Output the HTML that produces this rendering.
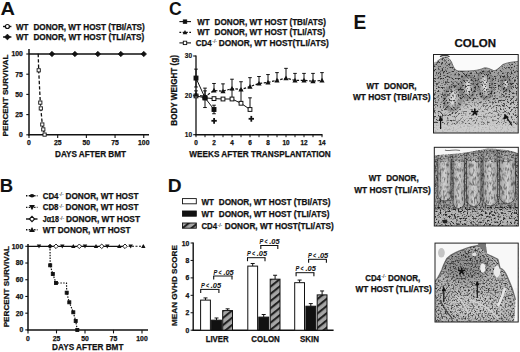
<!DOCTYPE html>
<html><head><meta charset="utf-8"><style>
html,body{margin:0;padding:0;background:#fff;}
svg{display:block;}
text{font-family:"Liberation Sans", sans-serif;fill:#111;stroke:#111;stroke-width:0.25px;}
</style></head><body>
<svg width="520" height="352" viewBox="0 0 520 352">
<defs>
<pattern id="hatch" patternUnits="userSpaceOnUse" width="5.6" height="5.6" patternTransform="rotate(51)">
<rect width="5.6" height="5.6" fill="#a6a6a6"/><rect width="2.1" height="5.6" fill="#222"/></pattern>
<linearGradient id="cryptg" x1="0" y1="0" x2="1" y2="0"><stop offset="0" stop-color="#a0a0a0"/><stop offset="0.5" stop-color="#d0d0d0"/><stop offset="1" stop-color="#a0a0a0"/></linearGradient>
<clipPath id="c1"><rect x="433.5" y="54.5" width="84.7" height="78.5"/></clipPath>
<clipPath id="c2"><rect x="434.3" y="147.3" width="84" height="78.7"/></clipPath>
<clipPath id="c3"><rect x="435.0" y="243.1" width="83.2" height="78.9"/></clipPath>
<filter id="blur1" x="-20%" y="-20%" width="140%" height="140%"><feGaussianBlur stdDeviation="0.7"/></filter>
<filter id="blur15" x="-20%" y="-20%" width="140%" height="140%"><feGaussianBlur stdDeviation="1.3"/></filter>
<filter id="blur2" x="-20%" y="-20%" width="140%" height="140%"><feGaussianBlur stdDeviation="3"/></filter>
<filter id="sp1" x="0" y="0" width="100%" height="100%">
<feTurbulence type="fractalNoise" baseFrequency="0.6" numOctaves="2" seed="7" result="n"/>
<feColorMatrix in="n" type="matrix" values="0 0 0 0 0  0 0 0 0 0  0 0 0 0 0  3.2 0 0 0 -1.45"/>
<feGaussianBlur stdDeviation="0.35"/>
</filter>
<filter id="sp3" x="0" y="0" width="100%" height="100%">
<feTurbulence type="fractalNoise" baseFrequency="0.55" numOctaves="2" seed="5" result="n"/>
<feColorMatrix in="n" type="matrix" values="0 0 0 0 0  0 0 0 0 0  0 0 0 0 0  5 0 0 0 -2.55"/>
<feGaussianBlur stdDeviation="0.5"/>
</filter>
<filter id="sp2" x="0" y="0" width="100%" height="100%">
<feTurbulence type="fractalNoise" baseFrequency="0.55 0.22" numOctaves="2" seed="11" result="n"/>
<feColorMatrix in="n" type="matrix" values="0 0 0 0 0  0 0 0 0 0  0 0 0 0 0  3.2 0 0 0 -1.45"/>
<feGaussianBlur stdDeviation="0.35"/>
</filter>
</defs>
<rect width="520" height="352" fill="#fff"/>
<text x="0.5" y="14.9" font-size="18.7" font-weight="bold" text-anchor="start" textLength="14.45" lengthAdjust="spacingAndGlyphs" style="stroke-width:0px">A</text>
<line x1="3" y1="26.5" x2="11.4" y2="26.5" stroke="#111" stroke-width="1.4"/>
<circle cx="7.4" cy="26.5" r="2.0" fill="#fff" stroke="#111" stroke-width="1.2"/>
<text x="15.9" y="29.6" font-size="8.2" font-weight="bold" text-anchor="start" textLength="12.4" lengthAdjust="spacingAndGlyphs">WT</text>
<text x="33.4" y="29.6" font-size="8.2" font-weight="bold" text-anchor="start" textLength="111.4" lengthAdjust="spacingAndGlyphs">DONOR, WT HOST (TBI/ATS)</text>
<line x1="3" y1="37" x2="11.4" y2="37" stroke="#111" stroke-width="1.4"/>
<path d="M4.5 37L7.4 34.1L10.3 37L7.4 39.9Z" fill="#111" stroke="#111" stroke-width="0.6"/>
<text x="15.9" y="39.9" font-size="8.2" font-weight="bold" text-anchor="start" textLength="12.4" lengthAdjust="spacingAndGlyphs">WT</text>
<text x="33.4" y="39.9" font-size="8.2" font-weight="bold" text-anchor="start" textLength="110.8" lengthAdjust="spacingAndGlyphs">DONOR, WT HOST (TLI/ATS)</text>
<line x1="29" y1="49" x2="29" y2="135.4" stroke="#111" stroke-width="1.5"/>
<line x1="28.3" y1="134.8" x2="149" y2="134.8" stroke="#111" stroke-width="1.5"/>
<line x1="26.3" y1="134.8" x2="29" y2="134.8" stroke="#111" stroke-width="1.1"/>
<text x="22.8" y="137.20000000000002" font-size="6.8" font-weight="bold" text-anchor="end">0</text>
<line x1="29.0" y1="134.8" x2="29.0" y2="138" stroke="#111" stroke-width="1.1"/>
<text x="29.0" y="145.4" font-size="6.8" font-weight="bold" text-anchor="middle">0</text>
<line x1="26.3" y1="114.60000000000001" x2="29" y2="114.60000000000001" stroke="#111" stroke-width="1.1"/>
<text x="22.8" y="117.00000000000001" font-size="6.8" font-weight="bold" text-anchor="end">25</text>
<line x1="57.6875" y1="134.8" x2="57.6875" y2="138" stroke="#111" stroke-width="1.1"/>
<text x="57.6875" y="145.4" font-size="6.8" font-weight="bold" text-anchor="middle">25</text>
<line x1="26.3" y1="94.4" x2="29" y2="94.4" stroke="#111" stroke-width="1.1"/>
<text x="22.8" y="96.80000000000001" font-size="6.8" font-weight="bold" text-anchor="end">50</text>
<line x1="86.375" y1="134.8" x2="86.375" y2="138" stroke="#111" stroke-width="1.1"/>
<text x="86.375" y="145.4" font-size="6.8" font-weight="bold" text-anchor="middle">50</text>
<line x1="26.3" y1="74.20000000000002" x2="29" y2="74.20000000000002" stroke="#111" stroke-width="1.1"/>
<text x="22.8" y="76.60000000000002" font-size="6.8" font-weight="bold" text-anchor="end">75</text>
<line x1="115.0625" y1="134.8" x2="115.0625" y2="138" stroke="#111" stroke-width="1.1"/>
<text x="115.0625" y="145.4" font-size="6.8" font-weight="bold" text-anchor="middle">75</text>
<line x1="26.3" y1="54.0" x2="29" y2="54.0" stroke="#111" stroke-width="1.1"/>
<text x="22.8" y="56.4" font-size="6.8" font-weight="bold" text-anchor="end">100</text>
<line x1="143.75" y1="134.8" x2="143.75" y2="138" stroke="#111" stroke-width="1.1"/>
<text x="143.75" y="145.4" font-size="6.8" font-weight="bold" text-anchor="middle">100</text>
<text x="55" y="156.6" font-size="8.8" font-weight="bold" text-anchor="start" textLength="71" lengthAdjust="spacingAndGlyphs">DAYS AFTER BMT</text>
<text x="0" y="0" font-size="8.1" font-weight="bold" text-anchor="start" textLength="81.9" lengthAdjust="spacingAndGlyphs" transform="translate(7.9 136.4) rotate(-90)">PERCENT SURVIVAL</text>
<line x1="29" y1="54.0" x2="143.75" y2="54.0" stroke="#111" stroke-width="1.3"/>
<path d="M49.150000000000006 54.0L51.95 51.2L54.75 54.0L51.95 56.8Z" fill="#111" stroke="#111" stroke-width="0.6"/>
<path d="M72.10000000000001 54.0L74.9 51.2L77.7 54.0L74.9 56.8Z" fill="#111" stroke="#111" stroke-width="0.6"/>
<path d="M95.05 54.0L97.85 51.2L100.64999999999999 54.0L97.85 56.8Z" fill="#111" stroke="#111" stroke-width="0.6"/>
<path d="M118.0 54.0L120.8 51.2L123.6 54.0L120.8 56.8Z" fill="#111" stroke="#111" stroke-width="0.6"/>
<path d="M140.95 54.0L143.75 51.2L146.55 54.0L143.75 56.8Z" fill="#111" stroke="#111" stroke-width="0.6"/>
<polyline points="38.2,53.8 38.7,70.3 40.3,102.6 40.8,108.4 42.3,124.5 43.3,129.4 44.6,134.6" fill="none" stroke="#111" stroke-width="1.3" stroke-dasharray="3.4 2"/>
<rect x="37.1" y="68.7" width="3.2" height="3.2" fill="#fff" stroke="#111" stroke-width="0.9"/>
<rect x="38.699999999999996" y="101.0" width="3.2" height="3.2" fill="#fff" stroke="#111" stroke-width="0.9"/>
<rect x="39.199999999999996" y="106.80000000000001" width="3.2" height="3.2" fill="#fff" stroke="#111" stroke-width="0.9"/>
<rect x="40.699999999999996" y="122.9" width="3.2" height="3.2" fill="#fff" stroke="#111" stroke-width="0.9"/>
<rect x="41.699999999999996" y="127.80000000000001" width="3.2" height="3.2" fill="#fff" stroke="#111" stroke-width="0.9"/>
<rect x="43.0" y="133.0" width="3.2" height="3.2" fill="#fff" stroke="#111" stroke-width="0.9"/>
<text x="-0.2" y="191.9" font-size="18.9" font-weight="bold" text-anchor="start" textLength="13.36" lengthAdjust="spacingAndGlyphs" style="stroke-width:0.1px">B</text>
<line x1="26" y1="195.8" x2="37.5" y2="195.8" stroke="#111" stroke-width="1.4" stroke-dasharray="1.4 1.3"/>
<ellipse cx="32" cy="195.8" rx="2.3" ry="1.8" fill="#111"/>
<text x="42.7" y="198.70000000000002" font-size="8.2" font-weight="bold" text-anchor="start" textLength="15.8" lengthAdjust="spacingAndGlyphs">CD4</text>
<text x="58.9" y="196.3" font-size="5.0" font-weight="normal" style="stroke:#444;stroke-width:0.15px;fill:#444">-/-</text>
<text x="65.5" y="198.70000000000002" font-size="8.2" font-weight="bold" text-anchor="start" textLength="73.0" lengthAdjust="spacingAndGlyphs">DONOR, WT HOST</text>
<line x1="26" y1="207.4" x2="37.5" y2="207.4" stroke="#111" stroke-width="1.4" stroke-dasharray="1.4 1.3"/>
<path d="M29.1 205.08L34.9 205.08L32 210.3Z" fill="#111"/>
<text x="42.7" y="210.3" font-size="8.2" font-weight="bold" text-anchor="start" textLength="15.8" lengthAdjust="spacingAndGlyphs">CD8</text>
<text x="58.9" y="207.9" font-size="5.0" font-weight="normal" style="stroke:#444;stroke-width:0.15px;fill:#444">-/-</text>
<text x="65.5" y="210.3" font-size="8.2" font-weight="bold" text-anchor="start" textLength="73.0" lengthAdjust="spacingAndGlyphs">DONOR, WT HOST</text>
<line x1="26" y1="219.0" x2="37.5" y2="219.0" stroke="#111" stroke-width="1.4"/>
<path d="M29.4 219.0L32 216.4L34.6 219.0L32 221.6Z" fill="#fff" stroke="#111" stroke-width="1.1"/>
<text x="42.7" y="221.9" font-size="8.2" font-weight="bold" text-anchor="start" textLength="16.3" lengthAdjust="spacingAndGlyphs">J&#945;18</text>
<text x="59.4" y="219.5" font-size="5.0" font-weight="normal" style="stroke:#444;stroke-width:0.15px;fill:#444">-/-</text>
<text x="66.0" y="221.9" font-size="8.2" font-weight="bold" text-anchor="start" textLength="74.0" lengthAdjust="spacingAndGlyphs">DONOR, WT HOST</text>
<line x1="26" y1="229.8" x2="37.5" y2="229.8" stroke="#111" stroke-width="1.4" stroke-dasharray="1.4 1.3"/>
<path d="M29.1 232.12L34.9 232.12L32 226.9Z" fill="#111"/>
<text x="42.7" y="232.70000000000002" font-size="8.2" font-weight="bold" text-anchor="start" textLength="87.7" lengthAdjust="spacingAndGlyphs">WT DONOR, WT HOST</text>
<line x1="28" y1="244" x2="28" y2="330.5" stroke="#111" stroke-width="1.5"/>
<line x1="27.3" y1="329.9" x2="148" y2="329.9" stroke="#111" stroke-width="1.5"/>
<line x1="25.3" y1="329.9" x2="28" y2="329.9" stroke="#111" stroke-width="1.1"/>
<text x="23.2" y="332.29999999999995" font-size="6.8" font-weight="bold" text-anchor="end">0</text>
<line x1="25.3" y1="313.17999999999995" x2="28" y2="313.17999999999995" stroke="#111" stroke-width="1.1"/>
<text x="23.2" y="315.5799999999999" font-size="6.8" font-weight="bold" text-anchor="end">20</text>
<line x1="25.3" y1="296.46" x2="28" y2="296.46" stroke="#111" stroke-width="1.1"/>
<text x="23.2" y="298.85999999999996" font-size="6.8" font-weight="bold" text-anchor="end">40</text>
<line x1="25.3" y1="279.74" x2="28" y2="279.74" stroke="#111" stroke-width="1.1"/>
<text x="23.2" y="282.14" font-size="6.8" font-weight="bold" text-anchor="end">60</text>
<line x1="25.3" y1="263.02" x2="28" y2="263.02" stroke="#111" stroke-width="1.1"/>
<text x="23.2" y="265.41999999999996" font-size="6.8" font-weight="bold" text-anchor="end">80</text>
<line x1="25.3" y1="246.29999999999998" x2="28" y2="246.29999999999998" stroke="#111" stroke-width="1.1"/>
<text x="23.2" y="248.7" font-size="6.8" font-weight="bold" text-anchor="end">100</text>
<line x1="28.0" y1="329.9" x2="28.0" y2="333.4" stroke="#111" stroke-width="1.1"/>
<text x="28.0" y="340.8" font-size="6.8" font-weight="bold" text-anchor="middle">0</text>
<line x1="56.5" y1="329.9" x2="56.5" y2="333.4" stroke="#111" stroke-width="1.1"/>
<text x="56.5" y="340.8" font-size="6.8" font-weight="bold" text-anchor="middle">25</text>
<line x1="85.0" y1="329.9" x2="85.0" y2="333.4" stroke="#111" stroke-width="1.1"/>
<text x="85.0" y="340.8" font-size="6.8" font-weight="bold" text-anchor="middle">50</text>
<line x1="113.49999999999999" y1="329.9" x2="113.49999999999999" y2="333.4" stroke="#111" stroke-width="1.1"/>
<text x="113.49999999999999" y="340.8" font-size="6.8" font-weight="bold" text-anchor="middle">75</text>
<line x1="142.0" y1="329.9" x2="142.0" y2="333.4" stroke="#111" stroke-width="1.1"/>
<text x="142.0" y="340.8" font-size="6.8" font-weight="bold" text-anchor="middle">100</text>
<text x="52.1" y="350.2" font-size="8.8" font-weight="bold" text-anchor="start" textLength="71.3" lengthAdjust="spacingAndGlyphs">DAYS AFTER BMT</text>
<text x="0" y="0" font-size="8.1" font-weight="bold" text-anchor="start" textLength="81.3" lengthAdjust="spacingAndGlyphs" transform="translate(8.6 327.3) rotate(-90)">PERCENT SURVIVAL</text>
<line x1="28" y1="246.29999999999998" x2="125" y2="246.29999999999998" stroke="#111" stroke-width="1.2"/>
<line x1="125" y1="246.29999999999998" x2="145" y2="246.29999999999998" stroke="#111" stroke-width="1.1" stroke-dasharray="2 1.5"/>
<path d="M36.8 244.54L41.2 244.54L39 248.49999999999997Z" fill="#111"/>
<path d="M60.099999999999994 244.54L64.5 244.54L62.3 248.49999999999997Z" fill="#111"/>
<path d="M82.8 244.54L87.2 244.54L85 248.49999999999997Z" fill="#111"/>
<path d="M105.1 244.54L109.5 244.54L107.3 248.49999999999997Z" fill="#111"/>
<path d="M128.5 244.54L132.89999999999998 244.54L130.7 248.49999999999997Z" fill="#111"/>
<path d="M53.7 246.29999999999998L56 243.99999999999997L58.3 246.29999999999998L56 248.6Z" fill="#fff" stroke="#111" stroke-width="0.9"/>
<path d="M77.0 246.29999999999998L79.3 243.99999999999997L81.6 246.29999999999998L79.3 248.6Z" fill="#fff" stroke="#111" stroke-width="0.9"/>
<path d="M99.4 246.29999999999998L101.7 243.99999999999997L104.0 246.29999999999998L101.7 248.6Z" fill="#fff" stroke="#111" stroke-width="0.9"/>
<path d="M122.7 246.29999999999998L125 243.99999999999997L127.3 246.29999999999998L125 248.6Z" fill="#fff" stroke="#111" stroke-width="0.9"/>
<path d="M71.1 248.05999999999997L75.5 248.05999999999997L73.3 244.1Z" fill="#111"/>
<path d="M93.8 248.05999999999997L98.2 248.05999999999997L96 244.1Z" fill="#111"/>
<path d="M117.1 248.05999999999997L121.5 248.05999999999997L119.3 244.1Z" fill="#111"/>
<path d="M141.10000000000002 248.05999999999997L145.5 248.05999999999997L143.3 244.1Z" fill="#111"/>
<path d="M47.8 246.29999999999998L50 244.1L52.2 246.29999999999998L50 248.49999999999997Z" fill="#111" stroke="#111" stroke-width="0.6"/>
<polyline points="50,246.29999999999998 50.2,265.3 52.8,274 56,283 66.5,283 66.7,292.7 69.3,302.3 73.3,312.3 75.7,321 77.3,330" fill="none" stroke="#111" stroke-width="1.2" stroke-dasharray="1.5 1.3"/>
<rect x="48.7" y="263.8" width="3.0" height="3.0" fill="#111" stroke="#111" stroke-width="0.9"/>
<rect x="51.3" y="272.5" width="3.0" height="3.0" fill="#111" stroke="#111" stroke-width="0.9"/>
<rect x="54.5" y="281.5" width="3.0" height="3.0" fill="#111" stroke="#111" stroke-width="0.9"/>
<rect x="65.2" y="291.2" width="3.0" height="3.0" fill="#111" stroke="#111" stroke-width="0.9"/>
<rect x="67.8" y="300.8" width="3.0" height="3.0" fill="#111" stroke="#111" stroke-width="0.9"/>
<rect x="71.8" y="310.8" width="3.0" height="3.0" fill="#111" stroke="#111" stroke-width="0.9"/>
<rect x="74.2" y="319.5" width="3.0" height="3.0" fill="#111" stroke="#111" stroke-width="0.9"/>
<rect x="75.8" y="328.5" width="3.0" height="3.0" fill="#111" stroke="#111" stroke-width="0.9"/>
<text x="169.0" y="14.7" font-size="18.9" font-weight="bold" text-anchor="start" textLength="12.75" lengthAdjust="spacingAndGlyphs" style="stroke-width:0px">C</text>
<line x1="179.4" y1="21.6" x2="191" y2="21.6" stroke="#111" stroke-width="1.1"/>
<rect x="183.3" y="19.900000000000002" width="3.4" height="3.4" fill="#111" stroke="#111" stroke-width="0.9"/>
<line x1="179.4" y1="32.4" x2="191" y2="32.4" stroke="#111" stroke-width="1.1" stroke-dasharray="1.8 1.5"/>
<path d="M182.7 34.239999999999995L187.3 34.239999999999995L185 30.099999999999998Z" fill="#111"/>
<line x1="179.4" y1="42.9" x2="191" y2="42.9" stroke="#111" stroke-width="1.1"/>
<rect x="183.3" y="41.199999999999996" width="3.4" height="3.4" fill="#fff" stroke="#111" stroke-width="0.9"/>
<text x="197.2" y="24.5" font-size="8.2" font-weight="bold" text-anchor="start" textLength="12.4" lengthAdjust="spacingAndGlyphs">WT</text>
<text x="214.6" y="24.5" font-size="8.2" font-weight="bold" text-anchor="start" textLength="111.4" lengthAdjust="spacingAndGlyphs">DONOR, WT HOST (TBI/ATS)</text>
<text x="197.2" y="35.3" font-size="8.2" font-weight="bold" text-anchor="start" textLength="12.4" lengthAdjust="spacingAndGlyphs">WT</text>
<text x="214.6" y="35.3" font-size="8.2" font-weight="bold" text-anchor="start" textLength="110.6" lengthAdjust="spacingAndGlyphs">DONOR, WT HOST (TLI/ATS)</text>
<text x="195.8" y="45.699999999999996" font-size="8.2" font-weight="bold" text-anchor="start" textLength="15.9" lengthAdjust="spacingAndGlyphs">CD4</text>
<text x="212.3" y="43.3" font-size="5.0" font-weight="normal" style="stroke:#444;stroke-width:0.15px;fill:#444">-/-</text>
<text x="218.8" y="45.699999999999996" font-size="8.2" font-weight="bold" text-anchor="start" textLength="110.0" lengthAdjust="spacingAndGlyphs">DONOR, WT HOST(TLI/ATS)</text>
<line x1="196" y1="55.5" x2="196" y2="135.29999999999998" stroke="#111" stroke-width="1.3"/>
<line x1="195.3" y1="134.7" x2="322.5" y2="134.7" stroke="#111" stroke-width="1.5"/>
<line x1="193.2" y1="134.7" x2="196" y2="134.7" stroke="#111" stroke-width="1.1"/>
<text x="192.2" y="137.0" font-size="6.6" font-weight="bold" text-anchor="end" style="stroke-width:0.15px">10</text>
<line x1="193.2" y1="95.35" x2="196" y2="95.35" stroke="#111" stroke-width="1.1"/>
<text x="192.2" y="97.64999999999999" font-size="6.6" font-weight="bold" text-anchor="end" style="stroke-width:0.15px">20</text>
<line x1="193.2" y1="55.999999999999986" x2="196" y2="55.999999999999986" stroke="#111" stroke-width="1.1"/>
<text x="192.2" y="58.29999999999998" font-size="6.6" font-weight="bold" text-anchor="end" style="stroke-width:0.15px">30</text>
<line x1="196.0" y1="134.7" x2="196.0" y2="137.2" stroke="#111" stroke-width="1.0"/>
<text x="196.0" y="145.2" font-size="6.4" font-weight="bold" text-anchor="middle">0</text>
<line x1="205.0" y1="134.7" x2="205.0" y2="137.2" stroke="#111" stroke-width="1.0"/>
<line x1="214.0" y1="134.7" x2="214.0" y2="137.2" stroke="#111" stroke-width="1.0"/>
<text x="214.0" y="145.2" font-size="6.4" font-weight="bold" text-anchor="middle">2</text>
<line x1="223.0" y1="134.7" x2="223.0" y2="137.2" stroke="#111" stroke-width="1.0"/>
<line x1="232.0" y1="134.7" x2="232.0" y2="137.2" stroke="#111" stroke-width="1.0"/>
<text x="232.0" y="145.2" font-size="6.4" font-weight="bold" text-anchor="middle">4</text>
<line x1="241.0" y1="134.7" x2="241.0" y2="137.2" stroke="#111" stroke-width="1.0"/>
<line x1="250.0" y1="134.7" x2="250.0" y2="137.2" stroke="#111" stroke-width="1.0"/>
<text x="250.0" y="145.2" font-size="6.4" font-weight="bold" text-anchor="middle">6</text>
<line x1="259.0" y1="134.7" x2="259.0" y2="137.2" stroke="#111" stroke-width="1.0"/>
<line x1="268.0" y1="134.7" x2="268.0" y2="137.2" stroke="#111" stroke-width="1.0"/>
<text x="268.0" y="145.2" font-size="6.4" font-weight="bold" text-anchor="middle">8</text>
<line x1="277.0" y1="134.7" x2="277.0" y2="137.2" stroke="#111" stroke-width="1.0"/>
<line x1="286.0" y1="134.7" x2="286.0" y2="137.2" stroke="#111" stroke-width="1.0"/>
<text x="286.0" y="145.2" font-size="6.4" font-weight="bold" text-anchor="middle">10</text>
<line x1="295.0" y1="134.7" x2="295.0" y2="137.2" stroke="#111" stroke-width="1.0"/>
<line x1="304.0" y1="134.7" x2="304.0" y2="137.2" stroke="#111" stroke-width="1.0"/>
<text x="304.0" y="145.2" font-size="6.4" font-weight="bold" text-anchor="middle">12</text>
<line x1="313.0" y1="134.7" x2="313.0" y2="137.2" stroke="#111" stroke-width="1.0"/>
<line x1="322.0" y1="134.7" x2="322.0" y2="137.2" stroke="#111" stroke-width="1.0"/>
<text x="322.0" y="145.2" font-size="6.4" font-weight="bold" text-anchor="middle">14</text>
<text x="189.3" y="156.8" font-size="8.8" font-weight="bold" text-anchor="start" textLength="141.5" lengthAdjust="spacingAndGlyphs">WEEKS AFTER TRANSPLANTATION</text>
<text x="0" y="0" font-size="8.2" font-weight="bold" text-anchor="start" textLength="70.6" lengthAdjust="spacingAndGlyphs" transform="translate(176.7 125.7) rotate(-90)">BODY WEIGHT (g)</text>
<polyline points="196.0,95.89999999999999 205.0,97.83999999999999 214.0,98.61599999999999 223.0,99.00399999999999 232.0,99.00399999999999 241.0,103.27199999999999 250.0,109.47999999999999" fill="none" stroke="#111" stroke-width="1.0"/>
<line x1="232.0" y1="99.00399999999999" x2="232.0" y2="89.69200000000001" stroke="#111" stroke-width="1.0"/>
<line x1="230.2" y1="89.69200000000001" x2="233.8" y2="89.69200000000001" stroke="#111" stroke-width="1.0"/>
<line x1="241.0" y1="103.27199999999999" x2="241.0" y2="90.07999999999998" stroke="#111" stroke-width="1.0"/>
<line x1="239.2" y1="90.07999999999998" x2="242.8" y2="90.07999999999998" stroke="#111" stroke-width="1.0"/>
<line x1="250.0" y1="109.47999999999999" x2="250.0" y2="97.83999999999999" stroke="#111" stroke-width="1.0"/>
<line x1="248.2" y1="97.83999999999999" x2="251.8" y2="97.83999999999999" stroke="#111" stroke-width="1.0"/>
<polyline points="196.0,94.73599999999999 205.0,96.67599999999999 214.0,90.46799999999999 223.0,91.244 232.0,88.52799999999999 241.0,89.49799999999999 250.0,86.588 259.0,83.484 268.0,82.32 277.0,80.38 286.0,78.05199999999999 295.0,80.38 304.0,80.38 313.0,81.15599999999998 322.0,80.38" fill="none" stroke="#111" stroke-width="1.2" stroke-dasharray="2.6 1.6"/>
<line x1="196.0" y1="94.73599999999999" x2="196.0" y2="90.856" stroke="#111" stroke-width="1.0"/>
<line x1="194.2" y1="90.856" x2="197.8" y2="90.856" stroke="#111" stroke-width="1.0"/>
<line x1="205.0" y1="96.67599999999999" x2="205.0" y2="90.856" stroke="#111" stroke-width="1.0"/>
<line x1="203.2" y1="90.856" x2="206.8" y2="90.856" stroke="#111" stroke-width="1.0"/>
<line x1="214.0" y1="90.46799999999999" x2="214.0" y2="83.484" stroke="#111" stroke-width="1.0"/>
<line x1="212.2" y1="83.484" x2="215.8" y2="83.484" stroke="#111" stroke-width="1.0"/>
<line x1="223.0" y1="91.244" x2="223.0" y2="83.872" stroke="#111" stroke-width="1.0"/>
<line x1="221.2" y1="83.872" x2="224.8" y2="83.872" stroke="#111" stroke-width="1.0"/>
<line x1="232.0" y1="88.52799999999999" x2="232.0" y2="79.21600000000001" stroke="#111" stroke-width="1.0"/>
<line x1="230.2" y1="79.21600000000001" x2="233.8" y2="79.21600000000001" stroke="#111" stroke-width="1.0"/>
<line x1="241.0" y1="89.49799999999999" x2="241.0" y2="81.738" stroke="#111" stroke-width="1.0"/>
<line x1="239.2" y1="81.738" x2="242.8" y2="81.738" stroke="#111" stroke-width="1.0"/>
<line x1="250.0" y1="86.588" x2="250.0" y2="77.66399999999999" stroke="#111" stroke-width="1.0"/>
<line x1="248.2" y1="77.66399999999999" x2="251.8" y2="77.66399999999999" stroke="#111" stroke-width="1.0"/>
<line x1="259.0" y1="83.484" x2="259.0" y2="76.5" stroke="#111" stroke-width="1.0"/>
<line x1="257.2" y1="76.5" x2="260.8" y2="76.5" stroke="#111" stroke-width="1.0"/>
<line x1="268.0" y1="82.32" x2="268.0" y2="74.55999999999999" stroke="#111" stroke-width="1.0"/>
<line x1="266.2" y1="74.55999999999999" x2="269.8" y2="74.55999999999999" stroke="#111" stroke-width="1.0"/>
<line x1="277.0" y1="80.38" x2="277.0" y2="72.61999999999999" stroke="#111" stroke-width="1.0"/>
<line x1="275.2" y1="72.61999999999999" x2="278.8" y2="72.61999999999999" stroke="#111" stroke-width="1.0"/>
<line x1="286.0" y1="78.05199999999999" x2="286.0" y2="68.35199999999999" stroke="#111" stroke-width="1.0"/>
<line x1="284.2" y1="68.35199999999999" x2="287.8" y2="68.35199999999999" stroke="#111" stroke-width="1.0"/>
<line x1="295.0" y1="80.38" x2="295.0" y2="73.39599999999999" stroke="#111" stroke-width="1.0"/>
<line x1="293.2" y1="73.39599999999999" x2="296.8" y2="73.39599999999999" stroke="#111" stroke-width="1.0"/>
<line x1="304.0" y1="80.38" x2="304.0" y2="73.39599999999999" stroke="#111" stroke-width="1.0"/>
<line x1="302.2" y1="73.39599999999999" x2="305.8" y2="73.39599999999999" stroke="#111" stroke-width="1.0"/>
<line x1="313.0" y1="81.15599999999998" x2="313.0" y2="73.39599999999999" stroke="#111" stroke-width="1.0"/>
<line x1="311.2" y1="73.39599999999999" x2="314.8" y2="73.39599999999999" stroke="#111" stroke-width="1.0"/>
<line x1="322.0" y1="80.38" x2="322.0" y2="72.61999999999999" stroke="#111" stroke-width="1.0"/>
<line x1="320.2" y1="72.61999999999999" x2="323.8" y2="72.61999999999999" stroke="#111" stroke-width="1.0"/>
<rect x="203.1" y="95.93999999999998" width="3.8" height="3.8" fill="#fff" stroke="#111" stroke-width="1.0"/>
<rect x="212.1" y="96.71599999999998" width="3.8" height="3.8" fill="#fff" stroke="#111" stroke-width="1.0"/>
<rect x="221.1" y="97.10399999999998" width="3.8" height="3.8" fill="#fff" stroke="#111" stroke-width="1.0"/>
<rect x="230.1" y="97.10399999999998" width="3.8" height="3.8" fill="#fff" stroke="#111" stroke-width="1.0"/>
<rect x="239.1" y="101.37199999999999" width="3.8" height="3.8" fill="#fff" stroke="#111" stroke-width="1.0"/>
<rect x="248.1" y="107.57999999999998" width="3.8" height="3.8" fill="#fff" stroke="#111" stroke-width="1.0"/>
<rect x="194.1" y="93.99999999999999" width="3.8" height="3.8" fill="#fff" stroke="#111" stroke-width="1.0"/>
<path d="M193.4 96.81599999999999L198.6 96.81599999999999L196.0 92.136Z" fill="#111"/>
<path d="M202.4 98.75599999999999L207.6 98.75599999999999L205.0 94.076Z" fill="#111"/>
<path d="M211.4 92.54799999999999L216.6 92.54799999999999L214.0 87.868Z" fill="#111"/>
<path d="M220.4 93.324L225.6 93.324L223.0 88.644Z" fill="#111"/>
<path d="M229.4 90.60799999999999L234.6 90.60799999999999L232.0 85.928Z" fill="#111"/>
<path d="M238.4 91.57799999999999L243.6 91.57799999999999L241.0 86.898Z" fill="#111"/>
<path d="M247.4 88.66799999999999L252.6 88.66799999999999L250.0 83.988Z" fill="#111"/>
<path d="M256.4 85.564L261.6 85.564L259.0 80.884Z" fill="#111"/>
<path d="M265.4 84.39999999999999L270.6 84.39999999999999L268.0 79.72Z" fill="#111"/>
<path d="M274.4 82.46L279.6 82.46L277.0 77.78Z" fill="#111"/>
<path d="M283.4 80.13199999999999L288.6 80.13199999999999L286.0 75.452Z" fill="#111"/>
<path d="M292.4 82.46L297.6 82.46L295.0 77.78Z" fill="#111"/>
<path d="M301.4 82.46L306.6 82.46L304.0 77.78Z" fill="#111"/>
<path d="M310.4 83.23599999999998L315.6 83.23599999999998L313.0 78.55599999999998Z" fill="#111"/>
<path d="M319.4 82.46L324.6 82.46L322.0 77.78Z" fill="#111"/>
<polyline points="196.0,78.05199999999999 205.0,97.83999999999999 214.0,109.47999999999999" fill="none" stroke="#111" stroke-width="1.0"/>
<line x1="196.0" y1="78.05199999999999" x2="196.0" y2="69.12799999999999" stroke="#111" stroke-width="1.0"/>
<line x1="194.2" y1="69.12799999999999" x2="197.8" y2="69.12799999999999" stroke="#111" stroke-width="1.0"/>
<line x1="196.0" y1="78.05199999999999" x2="196.0" y2="86.97599999999998" stroke="#111" stroke-width="1.0"/>
<line x1="194.2" y1="86.97599999999998" x2="197.8" y2="86.97599999999998" stroke="#111" stroke-width="1.0"/>
<rect x="194.0" y="76.05199999999999" width="4.0" height="4.0" fill="#111" stroke="#111" stroke-width="0.9"/>
<line x1="205.0" y1="97.83999999999999" x2="205.0" y2="88.13999999999999" stroke="#111" stroke-width="1.0"/>
<line x1="203.2" y1="88.13999999999999" x2="206.8" y2="88.13999999999999" stroke="#111" stroke-width="1.0"/>
<line x1="205.0" y1="97.83999999999999" x2="205.0" y2="107.53999999999999" stroke="#111" stroke-width="1.0"/>
<line x1="203.2" y1="107.53999999999999" x2="206.8" y2="107.53999999999999" stroke="#111" stroke-width="1.0"/>
<rect x="203.0" y="95.83999999999999" width="4.0" height="4.0" fill="#111" stroke="#111" stroke-width="0.9"/>
<line x1="214.0" y1="109.47999999999999" x2="214.0" y2="105.21199999999999" stroke="#111" stroke-width="1.0"/>
<line x1="212.2" y1="105.21199999999999" x2="215.8" y2="105.21199999999999" stroke="#111" stroke-width="1.0"/>
<line x1="214.0" y1="109.47999999999999" x2="214.0" y2="113.74799999999999" stroke="#111" stroke-width="1.0"/>
<line x1="212.2" y1="113.74799999999999" x2="215.8" y2="113.74799999999999" stroke="#111" stroke-width="1.0"/>
<rect x="212.0" y="107.47999999999999" width="4.0" height="4.0" fill="#111" stroke="#111" stroke-width="0.9"/>
<line x1="211.4" y1="120.8" x2="216.79999999999998" y2="120.8" stroke="#111" stroke-width="1.8"/>
<line x1="214.1" y1="117.89999999999999" x2="214.1" y2="123.7" stroke="#111" stroke-width="1.8"/>
<line x1="248.60000000000002" y1="118.8" x2="254.0" y2="118.8" stroke="#111" stroke-width="1.8"/>
<line x1="251.3" y1="115.89999999999999" x2="251.3" y2="121.7" stroke="#111" stroke-width="1.8"/>
<text x="167.7" y="191.6" font-size="18.55" font-weight="bold" text-anchor="start" textLength="13.84" lengthAdjust="spacingAndGlyphs" style="stroke-width:0.1px">D</text>
<rect x="182.5" y="198.6" width="13.8" height="5.2" fill="#fff" stroke="#111" stroke-width="0.9"/>
<rect x="182.5" y="211" width="13.8" height="5.2" fill="#111" stroke="#111" stroke-width="0.9"/>
<rect x="182.5" y="223" width="13.8" height="5.2" fill="url(#hatch)" stroke="#111" stroke-width="0.9"/>
<text x="201.4" y="204.5" font-size="8.2" font-weight="bold" text-anchor="start" textLength="12.4" lengthAdjust="spacingAndGlyphs">WT</text>
<text x="218.8" y="204.5" font-size="8.2" font-weight="bold" text-anchor="start" textLength="111.69999999999999" lengthAdjust="spacingAndGlyphs">DONOR, WT HOST (TBI/ATS)</text>
<text x="201.4" y="216.8" font-size="8.2" font-weight="bold" text-anchor="start" textLength="12.4" lengthAdjust="spacingAndGlyphs">WT</text>
<text x="218.8" y="216.8" font-size="8.2" font-weight="bold" text-anchor="start" textLength="110.69999999999999" lengthAdjust="spacingAndGlyphs">DONOR, WT HOST (TLI/ATS)</text>
<text x="201.4" y="228.9" font-size="8.2" font-weight="bold" text-anchor="start" textLength="15.7" lengthAdjust="spacingAndGlyphs">CD4</text>
<text x="217.5" y="226.70000000000002" font-size="5.0" font-weight="normal" style="stroke:#444;stroke-width:0.15px;fill:#444">-/-</text>
<text x="224.8" y="228.9" font-size="8.2" font-weight="bold" text-anchor="start" textLength="108.89999999999998" lengthAdjust="spacingAndGlyphs">DONOR, WT HOST(TLI/ATS)</text>
<line x1="193.2" y1="242.5" x2="193.2" y2="330.8" stroke="#111" stroke-width="1.4"/>
<line x1="192.5" y1="330.2" x2="333.6" y2="330.2" stroke="#111" stroke-width="1.4"/>
<line x1="190.6" y1="330.2" x2="193.2" y2="330.2" stroke="#111" stroke-width="1.0"/>
<text x="189.2" y="332.8" font-size="6.8" font-weight="bold" text-anchor="end">0</text>
<line x1="190.6" y1="312.76" x2="193.2" y2="312.76" stroke="#111" stroke-width="1.0"/>
<text x="189.2" y="315.36" font-size="6.8" font-weight="bold" text-anchor="end">2</text>
<line x1="190.6" y1="295.32" x2="193.2" y2="295.32" stroke="#111" stroke-width="1.0"/>
<text x="189.2" y="297.92" font-size="6.8" font-weight="bold" text-anchor="end">4</text>
<line x1="190.6" y1="277.88" x2="193.2" y2="277.88" stroke="#111" stroke-width="1.0"/>
<text x="189.2" y="280.48" font-size="6.8" font-weight="bold" text-anchor="end">6</text>
<line x1="190.6" y1="260.44" x2="193.2" y2="260.44" stroke="#111" stroke-width="1.0"/>
<text x="189.2" y="263.04" font-size="6.8" font-weight="bold" text-anchor="end">8</text>
<line x1="190.6" y1="243.0" x2="193.2" y2="243.0" stroke="#111" stroke-width="1.0"/>
<text x="189.2" y="245.6" font-size="6.8" font-weight="bold" text-anchor="end">10</text>
<text x="0" y="0" font-size="8.0" font-weight="bold" text-anchor="start" textLength="80.8" lengthAdjust="spacingAndGlyphs" transform="translate(176.9 325.9) rotate(-90)">MEAN GVHD SCORE</text>
<line x1="205.5" y1="300.116" x2="205.5" y2="297.936" stroke="#111" stroke-width="1.0"/>
<line x1="203.5" y1="297.936" x2="207.5" y2="297.936" stroke="#111" stroke-width="1.0"/>
<rect x="200.6" y="300.116" width="9.8" height="30.084000000000003" fill="#fff" stroke="#111" stroke-width="1.0"/>
<line x1="216.5" y1="320.17199999999997" x2="216.5" y2="317.99199999999996" stroke="#111" stroke-width="1.0"/>
<line x1="214.5" y1="317.99199999999996" x2="218.5" y2="317.99199999999996" stroke="#111" stroke-width="1.0"/>
<rect x="211.6" y="320.17199999999997" width="9.8" height="10.02800000000002" fill="#111" stroke="#111" stroke-width="1.0"/>
<line x1="227.6" y1="310.58" x2="227.6" y2="308.836" stroke="#111" stroke-width="1.0"/>
<line x1="225.6" y1="308.836" x2="229.6" y2="308.836" stroke="#111" stroke-width="1.0"/>
<rect x="222.7" y="310.58" width="9.8" height="19.620000000000005" fill="url(#hatch)" stroke="#111" stroke-width="1.0"/>
<line x1="252.70000000000002" y1="266.108" x2="252.70000000000002" y2="263.49199999999996" stroke="#111" stroke-width="1.0"/>
<line x1="250.70000000000002" y1="263.49199999999996" x2="254.70000000000002" y2="263.49199999999996" stroke="#111" stroke-width="1.0"/>
<rect x="247.8" y="266.108" width="9.8" height="64.09199999999998" fill="#fff" stroke="#111" stroke-width="1.0"/>
<line x1="263.7" y1="317.12" x2="263.7" y2="314.50399999999996" stroke="#111" stroke-width="1.0"/>
<line x1="261.7" y1="314.50399999999996" x2="265.7" y2="314.50399999999996" stroke="#111" stroke-width="1.0"/>
<rect x="258.8" y="317.12" width="9.8" height="13.079999999999984" fill="#111" stroke="#111" stroke-width="1.0"/>
<line x1="275.09999999999997" y1="279.188" x2="275.09999999999997" y2="275.264" stroke="#111" stroke-width="1.0"/>
<line x1="273.09999999999997" y1="275.264" x2="277.09999999999997" y2="275.264" stroke="#111" stroke-width="1.0"/>
<rect x="270.2" y="279.188" width="9.8" height="51.012" fill="url(#hatch)" stroke="#111" stroke-width="1.0"/>
<line x1="299.59999999999997" y1="282.676" x2="299.59999999999997" y2="280.06" stroke="#111" stroke-width="1.0"/>
<line x1="297.59999999999997" y1="280.06" x2="301.59999999999997" y2="280.06" stroke="#111" stroke-width="1.0"/>
<rect x="294.7" y="282.676" width="9.8" height="47.524" fill="#fff" stroke="#111" stroke-width="1.0"/>
<line x1="310.79999999999995" y1="306.21999999999997" x2="310.79999999999995" y2="303.604" stroke="#111" stroke-width="1.0"/>
<line x1="308.79999999999995" y1="303.604" x2="312.79999999999995" y2="303.604" stroke="#111" stroke-width="1.0"/>
<rect x="305.9" y="306.21999999999997" width="9.8" height="23.980000000000018" fill="#111" stroke="#111" stroke-width="1.0"/>
<line x1="322.09999999999997" y1="294.884" x2="322.09999999999997" y2="290.96" stroke="#111" stroke-width="1.0"/>
<line x1="320.09999999999997" y1="290.96" x2="324.09999999999997" y2="290.96" stroke="#111" stroke-width="1.0"/>
<rect x="317.2" y="294.884" width="9.8" height="35.315999999999974" fill="url(#hatch)" stroke="#111" stroke-width="1.0"/>
<line x1="200.2" y1="289.4" x2="219.4" y2="289.4" stroke="#111" stroke-width="1.0"/>
<line x1="200.7" y1="289.4" x2="200.7" y2="292.9" stroke="#111" stroke-width="1.1"/>
<line x1="218.9" y1="289.4" x2="218.9" y2="292.9" stroke="#111" stroke-width="1.1"/>
<text x="200.9" y="288.29999999999995" font-size="6.5" font-weight="bold" text-anchor="start" font-style="italic" textLength="3.8" lengthAdjust="spacingAndGlyphs" style="stroke-width:0.05px">P</text>
<text x="205.9" y="288.29999999999995" font-size="6.3" font-weight="bold" text-anchor="start" font-style="italic" textLength="3.0" lengthAdjust="spacingAndGlyphs" style="stroke-width:0.05px">&lt;</text>
<text x="210.8" y="288.29999999999995" font-size="6.3" font-weight="bold" text-anchor="start" font-style="italic" textLength="10.4" lengthAdjust="spacingAndGlyphs" style="stroke-width:0.05px">.05</text>
<line x1="213.2" y1="276.0" x2="232.5" y2="276.0" stroke="#111" stroke-width="1.0"/>
<line x1="213.7" y1="276.0" x2="213.7" y2="279.5" stroke="#111" stroke-width="1.1"/>
<line x1="232.0" y1="276.0" x2="232.0" y2="279.5" stroke="#111" stroke-width="1.1"/>
<text x="213.5" y="274.59999999999997" font-size="6.5" font-weight="bold" text-anchor="start" font-style="italic" textLength="3.8" lengthAdjust="spacingAndGlyphs" style="stroke-width:0.05px">P</text>
<text x="218.5" y="274.59999999999997" font-size="6.3" font-weight="bold" text-anchor="start" font-style="italic" textLength="3.0" lengthAdjust="spacingAndGlyphs" style="stroke-width:0.05px">&lt;</text>
<text x="223.4" y="274.59999999999997" font-size="6.3" font-weight="bold" text-anchor="start" font-style="italic" textLength="10.4" lengthAdjust="spacingAndGlyphs" style="stroke-width:0.05px">.05</text>
<line x1="247" y1="257.7" x2="265.5" y2="257.7" stroke="#111" stroke-width="1.0"/>
<line x1="247.5" y1="257.7" x2="247.5" y2="261.2" stroke="#111" stroke-width="1.1"/>
<line x1="265.0" y1="257.7" x2="265.0" y2="261.2" stroke="#111" stroke-width="1.1"/>
<text x="246.9" y="256.3" font-size="6.5" font-weight="bold" text-anchor="start" font-style="italic" textLength="3.8" lengthAdjust="spacingAndGlyphs" style="stroke-width:0.05px">P</text>
<text x="251.9" y="256.3" font-size="6.3" font-weight="bold" text-anchor="start" font-style="italic" textLength="3.0" lengthAdjust="spacingAndGlyphs" style="stroke-width:0.05px">&lt;</text>
<text x="256.8" y="256.3" font-size="6.3" font-weight="bold" text-anchor="start" font-style="italic" textLength="10.4" lengthAdjust="spacingAndGlyphs" style="stroke-width:0.05px">.05</text>
<line x1="260.3" y1="245.5" x2="278.3" y2="245.5" stroke="#111" stroke-width="1.0"/>
<line x1="260.8" y1="245.5" x2="260.8" y2="249.0" stroke="#111" stroke-width="1.1"/>
<line x1="277.8" y1="245.5" x2="277.8" y2="249.0" stroke="#111" stroke-width="1.1"/>
<text x="259.4" y="244.3" font-size="6.5" font-weight="bold" text-anchor="start" font-style="italic" textLength="3.8" lengthAdjust="spacingAndGlyphs" style="stroke-width:0.05px">P</text>
<text x="264.4" y="244.3" font-size="6.3" font-weight="bold" text-anchor="start" font-style="italic" textLength="3.0" lengthAdjust="spacingAndGlyphs" style="stroke-width:0.05px">&lt;</text>
<text x="269.29999999999995" y="244.3" font-size="6.3" font-weight="bold" text-anchor="start" font-style="italic" textLength="10.4" lengthAdjust="spacingAndGlyphs" style="stroke-width:0.05px">.05</text>
<line x1="295.6" y1="272.7" x2="314.4" y2="272.7" stroke="#111" stroke-width="1.0"/>
<line x1="296.1" y1="272.7" x2="296.1" y2="276.2" stroke="#111" stroke-width="1.1"/>
<line x1="313.9" y1="272.7" x2="313.9" y2="276.2" stroke="#111" stroke-width="1.1"/>
<text x="295.6" y="271.29999999999995" font-size="6.5" font-weight="bold" text-anchor="start" font-style="italic" textLength="3.8" lengthAdjust="spacingAndGlyphs" style="stroke-width:0.05px">P</text>
<text x="300.6" y="271.29999999999995" font-size="6.3" font-weight="bold" text-anchor="start" font-style="italic" textLength="3.0" lengthAdjust="spacingAndGlyphs" style="stroke-width:0.05px">&lt;</text>
<text x="305.5" y="271.29999999999995" font-size="6.3" font-weight="bold" text-anchor="start" font-style="italic" textLength="10.4" lengthAdjust="spacingAndGlyphs" style="stroke-width:0.05px">.05</text>
<line x1="308.1" y1="259.3" x2="326.9" y2="259.3" stroke="#111" stroke-width="1.0"/>
<line x1="308.6" y1="259.3" x2="308.6" y2="262.8" stroke="#111" stroke-width="1.1"/>
<line x1="326.4" y1="259.3" x2="326.4" y2="262.8" stroke="#111" stroke-width="1.1"/>
<text x="308.0" y="257.9" font-size="6.5" font-weight="bold" text-anchor="start" font-style="italic" textLength="3.8" lengthAdjust="spacingAndGlyphs" style="stroke-width:0.05px">P</text>
<text x="313.0" y="257.9" font-size="6.3" font-weight="bold" text-anchor="start" font-style="italic" textLength="3.0" lengthAdjust="spacingAndGlyphs" style="stroke-width:0.05px">&lt;</text>
<text x="317.9" y="257.9" font-size="6.3" font-weight="bold" text-anchor="start" font-style="italic" textLength="10.4" lengthAdjust="spacingAndGlyphs" style="stroke-width:0.05px">.05</text>
<text x="205.7" y="342.1" font-size="8.2" font-weight="bold" text-anchor="start" textLength="23.0" lengthAdjust="spacingAndGlyphs">LIVER</text>
<text x="251.3" y="342.1" font-size="8.2" font-weight="bold" text-anchor="start" textLength="28.5" lengthAdjust="spacingAndGlyphs">COLON</text>
<text x="300" y="342.1" font-size="8.2" font-weight="bold" text-anchor="start" textLength="19" lengthAdjust="spacingAndGlyphs">SKIN</text>
<text x="353.5" y="29.0" font-size="19.3" font-weight="bold" text-anchor="start" textLength="12.73" lengthAdjust="spacingAndGlyphs" style="stroke-width:0.1px">E</text>
<text x="454.6" y="46.8" font-size="11.5" font-weight="bold" text-anchor="start" textLength="41.4" lengthAdjust="spacingAndGlyphs">COLON</text>
<text x="366.6" y="88.6" font-size="8.2" font-weight="bold" text-anchor="start" textLength="12.4" lengthAdjust="spacingAndGlyphs">WT</text>
<text x="384.0" y="88.6" font-size="8.2" font-weight="bold" text-anchor="start" textLength="32.5" lengthAdjust="spacingAndGlyphs">DONOR,</text>
<text x="353" y="99.7" font-size="8.2" font-weight="bold" text-anchor="start" textLength="77.6" lengthAdjust="spacingAndGlyphs">WT HOST (TBI/ATS)</text>
<text x="368.7" y="181.1" font-size="8.2" font-weight="bold" text-anchor="start" textLength="12.4" lengthAdjust="spacingAndGlyphs">WT</text>
<text x="386.2" y="181.1" font-size="8.2" font-weight="bold" text-anchor="start" textLength="32.5" lengthAdjust="spacingAndGlyphs">DONOR,</text>
<text x="354.3" y="193.2" font-size="8.2" font-weight="bold" text-anchor="start" textLength="76.5" lengthAdjust="spacingAndGlyphs">WT HOST (TLI/ATS)</text>
<text x="365.2" y="280.5" font-size="8.2" font-weight="bold" text-anchor="start" textLength="15.8" lengthAdjust="spacingAndGlyphs">CD4</text>
<text x="381.4" y="278.3" font-size="5.0" font-weight="normal" style="stroke:#444;stroke-width:0.15px;fill:#444">-/-</text>
<text x="388.0" y="280.5" font-size="8.2" font-weight="bold" text-anchor="start" textLength="32.2" lengthAdjust="spacingAndGlyphs">DONOR,</text>
<text x="355.6" y="292.3" font-size="8.2" font-weight="bold" text-anchor="start" textLength="76.2" lengthAdjust="spacingAndGlyphs">WT HOST (TLI/ATS)</text>
<g clip-path="url(#c1)">
<rect x="433.5" y="54.5" width="84.7" height="78.5" fill="#c4c4c4"/>
<path d="M433 60 L518 60 L518 100 C500 104 480 100 460 108 C450 112 440 108 433 106 Z" fill="#b0b0b0" filter="url(#blur2)"/>
<path d="M434 62 C440 60 446 57 450 60 C453 66 456 70 460 71 L484 69 C490 70 495 72 500 67 C505 64 511 62 518 62 L518 80 C505 80 495 84 484 84 C470 84 458 82 434 80 Z" fill="#8a8a8a" opacity="0.45" filter="url(#blur2)"/>
<ellipse cx="453" cy="98" rx="8.5" ry="12" transform="rotate(8 453 98)" fill="#b4b4b4" stroke="#7a7a7a" stroke-width="3" filter="url(#blur15)"/>
<ellipse cx="453" cy="98" rx="2.55" ry="6.6000000000000005" transform="rotate(8 453 98)" fill="#d8d8d8" filter="url(#blur1)"/>
<ellipse cx="468" cy="87" rx="6.5" ry="11" transform="rotate(0 468 87)" fill="#b4b4b4" stroke="#7a7a7a" stroke-width="3" filter="url(#blur15)"/>
<ellipse cx="468" cy="87" rx="1.95" ry="6.050000000000001" transform="rotate(0 468 87)" fill="#d8d8d8" filter="url(#blur1)"/>
<ellipse cx="485" cy="85" rx="7" ry="13" transform="rotate(-6 485 85)" fill="#b4b4b4" stroke="#7a7a7a" stroke-width="3" filter="url(#blur15)"/>
<ellipse cx="485" cy="85" rx="2.1" ry="7.15" transform="rotate(-6 485 85)" fill="#d8d8d8" filter="url(#blur1)"/>
<ellipse cx="506" cy="84" rx="4.5" ry="6" transform="rotate(0 506 84)" fill="#b4b4b4" stroke="#7a7a7a" stroke-width="3" filter="url(#blur15)"/>
<ellipse cx="506" cy="84" rx="1.3499999999999999" ry="3.3000000000000003" transform="rotate(0 506 84)" fill="#d8d8d8" filter="url(#blur1)"/>
<rect x="433.5" y="54.5" width="84.7" height="78.5" fill="#000" filter="url(#sp3)" opacity="0.7"/>
<path d="M460 102 C470 100 480 103 495 108 L505 124 L455 124 Z" fill="#d0d0d0" opacity="0.35" filter="url(#blur2)"/>
<rect x="433.5" y="124.5" width="84.7" height="9" fill="#cfcfcf" opacity="0.8" filter="url(#blur1)"/>
<path d="M433 54 L518 54 L518 61.5 C511 62 506 63 503 64.5 C499 67.5 497 70.5 494 70.8 C490 69 487 67.3 484 68 C478 70.8 470 71.3 458 71 C454.5 70 453 66 451.5 62 C449.5 58.5 448 57.5 446 57 C443 56.8 440 59 437 61.5 L433 62.5 Z" fill="#fafafa"/>
<path d="M440 56.6 C443 55 447 55 449.5 56.8" fill="none" stroke="#444" stroke-width="1.4"/>
<path d="M437 61.5 C440 59 443 56.8 446 57 C448 57.5 449.5 58.5 451.5 62 C453 66 454.5 70 458 71 C470 71.3 478 70.8 484 68 C487 67.3 490 69 494 70.8 C497 70.5 499 67.5 503 64.5 C506 63 511 62 518 61.5" fill="none" stroke="#555" stroke-width="1" opacity="0.8"/>
<path d="M440.6 129 L440.6 119" stroke="#111" stroke-width="1.2"/><path d="M438.4 121 L440.6 115.3 L442.8 121 Z" fill="#111"/>
<path d="M511.9 125.5 L506.8 117.5" stroke="#111" stroke-width="1.2"/><path d="M503.6 119.8 L504.6 114 L509 117.3 Z" fill="#111"/>
<path d="M474.80 112.20L474.80 109.10M474.80 112.20L477.75 111.24M474.80 112.20L476.62 114.71M474.80 112.20L472.98 114.71M474.80 112.20L471.85 111.24" stroke="#111" stroke-width="1.6" fill="none" stroke-linecap="round"/>
</g>
<rect x="433.5" y="54.5" width="84.7" height="78.5" fill="none" stroke="#222" stroke-width="1"/>
<g clip-path="url(#c2)">
<rect x="434.3" y="147.3" width="84" height="78.7" fill="#a2a2a2"/>
<rect x="434.3" y="147.3" width="84" height="78.7" fill="#000" filter="url(#sp1)" opacity="0.55"/>
<path d="M437.8 152 L437.8 194.4 A6.599999999999994 6.599999999999994 0 0 0 451 194.4 L451 152 Z" fill="url(#cryptg)" stroke="#555" stroke-width="1.0" filter="url(#blur1)"/>
<path d="M453 152 L453 202.75 A5.75 5.75 0 0 0 464.5 202.75 L464.5 152 Z" fill="url(#cryptg)" stroke="#555" stroke-width="1.0" filter="url(#blur1)"/>
<path d="M466.5 152 L466.5 199.25 A7.25 7.25 0 0 0 481 199.25 L481 152 Z" fill="url(#cryptg)" stroke="#555" stroke-width="1.0" filter="url(#blur1)"/>
<path d="M483 152 L483 198.75 A7.25 7.25 0 0 0 497.5 198.75 L497.5 152 Z" fill="url(#cryptg)" stroke="#555" stroke-width="1.0" filter="url(#blur1)"/>
<path d="M499.5 152 L499.5 195.5 A8.0 8.0 0 0 0 515.5 195.5 L515.5 152 Z" fill="url(#cryptg)" stroke="#555" stroke-width="1.0" filter="url(#blur1)"/>
<rect x="434.3" y="150" width="84" height="58" fill="#000" filter="url(#sp2)" opacity="0.45"/>
<path d="M496.7 169 L496.7 192" stroke="#f4f4f4" stroke-width="1.3" filter="url(#blur1)"/>
<path d="M475.5 172 L475.5 196" stroke="#e8e8e8" stroke-width="1" filter="url(#blur1)"/>
<rect x="434.3" y="210" width="84" height="17" fill="#c4c4c4" opacity="0.7" filter="url(#blur1)"/>
<rect x="434.3" y="207" width="84" height="20" fill="#000" filter="url(#sp3)" opacity="0.8"/>
<ellipse cx="445" cy="221.5" rx="2.5" ry="2" fill="#222" filter="url(#blur1)"/>
<path d="M434 156 C450 155 470 152.5 487 148.6 C495 148.5 505 150 518 153 L518 160 C500 160 470 161 434 162 Z" fill="#999" opacity="0.55" filter="url(#blur1)"/>
<rect x="434.3" y="150" width="84" height="12" fill="#000" filter="url(#sp1)" opacity="0.6"/>
<path d="M434 147 L518 147 L518 153 C513 151.5 508 150 502 149.5 C496 149 492 148.3 487 148.6 C480 150 472 152 462 153 C452 154 444 154.8 434 155.2 Z" fill="#f7f7f7"/>
<path d="M445 150 C449 152 454 148.5 460 150.5" fill="none" stroke="#777" stroke-width="1.1"/>
</g>
<rect x="434.3" y="147.3" width="84" height="78.7" fill="none" stroke="#222" stroke-width="1"/>
<g clip-path="url(#c3)">
<rect x="435.0" y="243.1" width="83.2" height="78.9" fill="#b8b8b8"/>
<ellipse cx="466" cy="266" rx="24" ry="16" fill="#6a6a6a" opacity="0.45" filter="url(#blur2)"/>
<ellipse cx="478" cy="306" rx="30" ry="12" fill="#dcdcdc" opacity="0.45" filter="url(#blur2)"/>
<rect x="435.0" y="243.1" width="83.2" height="78.9" fill="#000" filter="url(#sp1)" opacity="0.75"/>
<path d="M505 288 C503 294 501 300 498 306" fill="none" stroke="#e4e4e4" stroke-width="2.4" filter="url(#blur1)"/>
<path d="M470 300 C480 303 490 309 498 318" fill="none" stroke="#d2d2d2" stroke-width="1.5" filter="url(#blur1)"/>
<path d="M456 296 C462 300 466 306 468 314" fill="none" stroke="#d2d2d2" stroke-width="1.3" filter="url(#blur1)"/>
<path d="M440 300 C443 306 446 312 452 318" fill="none" stroke="#444" stroke-width="1.2" filter="url(#blur1)"/>
<ellipse cx="482.8" cy="268" rx="2.6" ry="4.5" fill="#eeeeee" filter="url(#blur1)"/>
<ellipse cx="497" cy="271.5" rx="3.2" ry="6" fill="#ebebeb" filter="url(#blur1)"/>
<ellipse cx="474.3" cy="254.4" rx="2.2" ry="1.8" fill="#e0e0e0" filter="url(#blur1)"/>
<path d="M434 242 L478.5 242 L478 245.5 C475 246 471 246.3 467 248 C462 250 456 252 451 255 C448 257 446.5 258.5 445.5 261 C444 264 443 266.5 442 269.5 C440.5 273 439 276 437 279 L434 282.5 Z" fill="#f8f8f8"/>
<ellipse cx="441.4" cy="252.8" rx="3.4" ry="4.8" fill="#c4c4c4" filter="url(#blur1)"/>
<path d="M485.5 242 L518 242 L518 300 L515.5 300 C514.5 296 513.5 293 512.5 289.5 C511 285 509 281 507 276 C505.5 272.5 503 269 500 268 C499 264 498.5 261.5 497.8 259.3 C495 257.5 491 256 487 254 Z" fill="#f8f8f8"/>
<path d="M514.3 288 L518 288 L518 322 L514 322 C515.5 312 515.8 300 514.3 288 Z" fill="#f2f2f2"/>
<path d="M478 245.5 C475 246 471 246.3 467 248 C462 250 456 252 451 255 C448 257 446.5 258.5 445.5 261 C444 264 443 266.5 442 269.5 C440.5 273 439 276 437 279 L434 282.5" fill="none" stroke="#4a4a4a" stroke-width="1.3" opacity="0.75"/>
<path d="M487 254 C491 256 495 257.5 497.8 259.3 C498.5 261.5 499 264 500 268 C503 269 505.5 272.5 507 276 C509 281 511 285 512.5 289.5 C513.5 293 514.5 296 515.5 300" fill="none" stroke="#4a4a4a" stroke-width="1.3" opacity="0.75"/>
<path d="M478.5 242 L485.5 242 L487 254 L484 251 L478 245.5 Z" fill="#777"/>
<path d="M443.8 302 L443.8 289.5" stroke="#111" stroke-width="1.2"/><path d="M441.6 291 L443.8 286.5 L446 291 Z" fill="#111"/>
<path d="M477.3 297.8 L477.3 283.8" stroke="#111" stroke-width="1.2"/><path d="M475.1 285.3 L477.3 280.8 L479.5 285.3 Z" fill="#111"/>
<path d="M461.60 271.30L461.60 268.20M461.60 271.30L464.55 270.34M461.60 271.30L463.42 273.81M461.60 271.30L459.78 273.81M461.60 271.30L458.65 270.34" stroke="#111" stroke-width="1.6" fill="none" stroke-linecap="round"/>
</g>
<rect x="435.0" y="243.1" width="83.2" height="78.9" fill="none" stroke="#222" stroke-width="1"/>
</svg></body></html>
